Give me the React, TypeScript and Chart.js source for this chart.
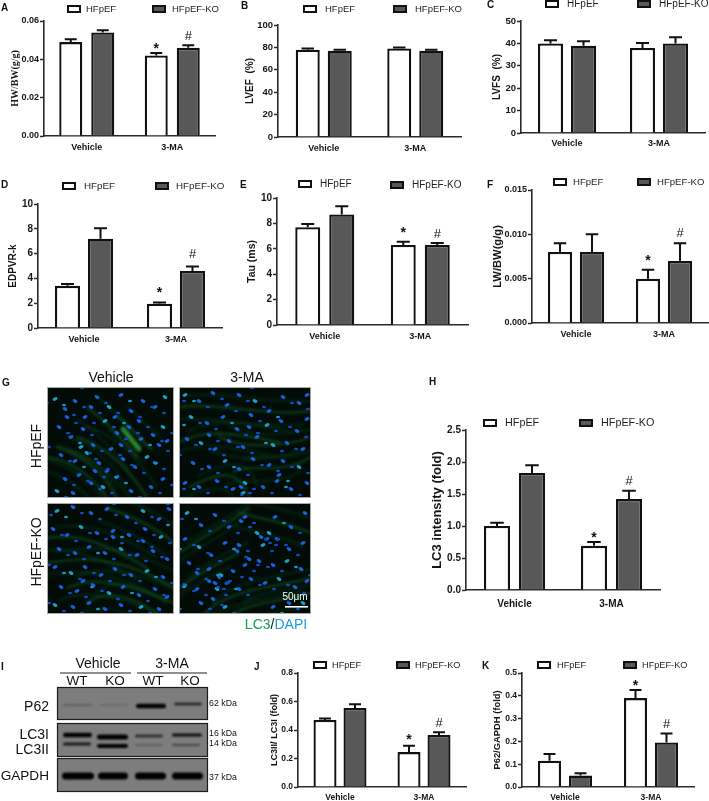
import React, { useEffect, useRef } from "react";
import { Chart, registerables } from "chart.js";
Chart.register(...registerables);

const W = 709, H = 801;
const SANS = '"Liberation Sans", Arial, sans-serif';
const SERIF = '"Liberation Serif", serif';
const INK = "#151515";
const KO_FILL = "#585858";

const categories = ["Vehicle", "3-MA"];
const seriesNames = ["HFpEF", "HFpEF-KO"];

const hwHF = [0.049, 0.042], hwKO = [0.054, 0.046], hwErrHF = [0.0015, 0.0013], hwErrKO = [0.0012, 0.0014];
const efHF = [78, 79], efKO = [77, 77], efErrHF = [1, 1], efErrKO = [1, 1];
const fsHF = [40, 38], fsKO = [39, 40], fsErrHF = [1.4, 2.2], fsErrKO = [2, 2.7];
const edHF = [3.4, 1.95], edKO = [7.2, 4.6], edErrHF = [0.15, 0.1], edErrKO = [0.85, 0.35];
const tauHF = [7.7, 6.3], tauKO = [8.7, 6.3], tauErrHF = [0.25, 0.25], tauErrKO = [0.65, 0.15];
const lwHF = [0.008, 0.005], lwKO = [0.008, 0.007], lwErrHF = [0.001, 0.001], lwErrKO = [0.002, 0.002];
const lcHF = [1.0, 0.69], lcKO = [1.83, 1.42], lcErrHF = [0.05, 0.06], lcErrKO = [0.12, 0.13];
const ratioHF = [0.47, 0.245], ratioKO = [0.555, 0.365], ratioErrHF = [0.01, 0.045], ratioErrKO = [0.025, 0.02];
const p62HF = [0.115, 0.39], p62KO = [0.05, 0.195], p62ErrHF = [0.03, 0.035], p62ErrKO = [0.01, 0.04];

type Panel = any;
const panels: Panel[] = [
  { hf: hwHF, ko: hwKO, eh: hwErrHF, ek: hwErrKO, x0: 44, x1: 215, top: 21, bot: 136, max: 0.06, step: 0.02, dec: 2, barW: 23, barStep: 32, tick: 9, xTick: 9, xPad: 6,
    title: "HW/BW(g/g)", titleX: 15, titleFont: { family: SERIF, size: 10, weight: "bold" }, leg: [68, 153, 9, 86, 172, 9, 9.5], marks: [["", "*"], ["", "#"]], gaps: [7, 9] },
  { hf: efHF, ko: efKO, eh: efErrHF, ek: efErrKO, x0: 278, x1: 461, top: 25, bot: 137, max: 100, step: 20, dec: 0, barW: 24, barStep: 32, tick: 9.5, xTick: 9, xPad: 6,
    title: "LVEF  (%)", titleX: 250, titleFont: { family: SANS, size: 10, weight: "bold" }, leg: [304, 394, 9, 325, 415, 9, 9.5], marks: [["", ""], ["", ""]], gaps: [7, 9] },
  { hf: fsHF, ko: fsKO, eh: fsErrHF, ek: fsErrKO, x0: 521, x1: 705, top: 21, bot: 133, max: 50, step: 10, dec: 0, barW: 25, barStep: 33, tick: 9.5, xTick: 9, xPad: 5,
    title: "LVFS  (%)", titleX: 497, titleFont: { family: SANS, size: 10, weight: "bold" }, leg: [546, 638, 4, 567, 659, 4, 10], marks: [["", ""], ["", ""]], gaps: [7, 9] },
  { hf: edHF, ko: edKO, eh: edErrHF, ek: edErrKO, x0: 38, x1: 222, top: 204, bot: 328, max: 10, step: 2, dec: 0, barW: 25, barStep: 33, tick: 10, xTick: 9, xPad: 6,
    title: "EDPVR-k", titleX: 13, titleFont: { family: SANS, size: 10, weight: "bold" }, leg: [63, 156, 186, 84, 176, 186, 9.8], marks: [["", "*"], ["", "#"]], gaps: [12, 12] },
  { hf: tauHF, ko: tauKO, eh: tauErrHF, ek: tauErrKO, x0: 277, x1: 468, top: 198, bot: 325, max: 10, step: 2, dec: 0, barW: 25, barStep: 34, tick: 10, xTick: 9, xPad: 6,
    title: "Tau (ms)", titleX: 252, titleFont: { family: SANS, size: 10.5, weight: "bold" }, leg: [299, 391, 184, 320, 412, 185, 10], marks: [["", "*"], ["", "#"]], gaps: [12, 9] },
  { hf: lwHF, ko: lwKO, eh: lwErrHF, ek: lwErrKO, x0: 532, x1: 708, top: 190, bot: 323, max: 0.015, step: 0.005, dec: 3, barW: 24, barStep: 32, tick: 9, xTick: 9, xPad: 6,
    title: "LW/BW(g/g)", titleX: 498, titleFont: { family: SANS, size: 11.2, weight: "bold" }, leg: [554, 638, 182, 573, 657, 182, 9.6], marks: [["", "*"], ["", "#"]], gaps: [12, 10] },
  { hf: lcHF, ko: lcKO, eh: lcErrHF, ek: lcErrKO, x0: 466, x1: 660, top: 430, bot: 590, max: 2.5, step: 0.5, dec: 1, barW: 26, barStep: 35, tick: 10, xTick: 10, xPad: 8,
    title: "LC3 intensity (fold)", titleX: 437, titleFont: { family: SANS, size: 13, weight: "bold" }, leg: [484, 580, 423, 505, 601, 423, 10.8], marks: [["", "*"], ["", "#"]], gaps: [7, 9] },
  { hf: ratioHF, ko: ratioKO, eh: ratioErrHF, ek: ratioErrKO, x0: 298, x1: 466, top: 673, bot: 787, max: 0.8, step: 0.2, dec: 1, barW: 23, barStep: 30, tick: 8.5, xTick: 8.5, xPad: 6,
    title: "LC3II/ LC3I (fold)", titleX: 274, titleFont: { family: SANS, size: 9.1, weight: "bold" }, leg: [314, 397, 665, 332, 415, 665, 9.2], marks: [["", "*"], ["", "#"]], gaps: [9, 9] },
  { hf: p62HF, ko: p62KO, eh: p62ErrHF, ek: p62ErrKO, x0: 522, x1: 694, top: 673, bot: 787, max: 0.5, step: 0.1, dec: 1, barW: 23, barStep: 31, tick: 8.5, xTick: 8.5, xPad: 6,
    title: "P62/GAPDH (fold)", titleX: 497, titleFont: { family: SANS, size: 9.4, weight: "bold" }, leg: [538, 624, 665, 557, 642, 665, 9.2], marks: [["", "*"], ["", "#"]], gaps: [7, 9] },
];

const panelLetters: [string, number, number][] = [
  ["A", 1, 2], ["B", 241, 0], ["C", 487, -1], ["D", 1, 179], ["E", 240, 179], ["F", 487, 179],
  ["G", 2, 377], ["H", 429, 376], ["I", 1, 661], ["J", 254, 661], ["K", 482, 660],
];

function makeChart(canvas: HTMLCanvasElement, p: Panel) {
  const catW = (p.x1 - p.x0) / 2;
  const decorate = {
    id: "decorate",
    afterDatasetsDraw(chart: any) {
      const ctx = chart.ctx;
      const yS = chart.scales.y;
      ctx.save();
      ctx.strokeStyle = "#111";
      const errs = [p.eh, p.ek];
      [0, 1].forEach((d) => {
        chart.getDatasetMeta(d).data.forEach((bar: any, i: number) => {
          const v = chart.data.datasets[d].data[i];
          const t = yS.getPixelForValue(v + errs[d][i]);
          const half = p.barW * 0.26;
          ctx.lineWidth = 2;
          ctx.beginPath();
          ctx.moveTo(bar.x, bar.y);
          ctx.lineTo(bar.x, t);
          ctx.moveTo(bar.x - half, t);
          ctx.lineTo(bar.x + half, t);
          ctx.stroke();
          const m = p.marks[d][i];
          if (m) {
            ctx.fillStyle = "#111";
            ctx.textAlign = "center";
            ctx.textBaseline = "middle";
            if (m === "*") {
              ctx.font = `bold 14px ${SANS}`;
              ctx.fillText(m, bar.x, t - p.gaps[0] + 3);
            } else {
              ctx.font = `13px ${SANS}`;
              ctx.fillText(m, bar.x, t - p.gaps[1]);
            }
          }
        });
      });
      const [b1, b2, by, t1, t2, ty, fs] = p.leg;
      ([[b1, t1, by, "#fff"], [b2, t2, ty, KO_FILL]] as any[]).forEach(([bx, tx, yy, fill], k) => {
        ctx.fillStyle = fill;
        ctx.fillRect(bx, yy - 3, 12, 6);
        ctx.lineWidth = 2;
        ctx.strokeRect(bx, yy - 3, 12, 6);
        ctx.fillStyle = "#1f1f1f";
        ctx.font = `${fs}px ${SANS}`;
        ctx.textAlign = "left";
        ctx.textBaseline = "middle";
        ctx.fillText(seriesNames[k], tx, yy + 0.5);
      });
      ctx.restore();
    },
  };
  return new Chart(canvas, {
    type: "bar",
    data: {
      labels: categories,
      datasets: [
        { label: seriesNames[0], data: p.hf, backgroundColor: "#ffffff", borderColor: "#111", borderWidth: 2.3 },
        { label: seriesNames[1], data: p.ko, backgroundColor: KO_FILL, borderColor: "#111", borderWidth: 2.3 },
      ],
    },
    options: {
      responsive: false,
      animation: false,
      events: [],
      layout: { padding: { left: 0, top: p.top, right: W - p.x1, bottom: H - p.bot - 24 } },
      datasets: { bar: { categoryPercentage: (2 * p.barStep) / catW, barPercentage: p.barW / p.barStep } },
      plugins: { legend: { display: false }, tooltip: { enabled: false }, title: { display: false } },
      scales: {
        x: {
          type: "category",
          grid: { display: false, drawTicks: false },
          border: { color: "#2a2a2a", width: 1.6 },
          afterFit: (s: any) => { s.height = 24; },
          ticks: { color: INK, padding: p.xPad, font: { family: SANS, size: p.xTick, weight: "bold" }, maxRotation: 0 },
        },
        y: {
          min: 0, max: p.max,
          grid: { drawOnChartArea: false, tickLength: 4, tickColor: "#2a2a2a", tickWidth: 1.5 },
          border: { color: "#2a2a2a", width: 1.6 },
          afterFit: (s: any) => { s.width = p.x0; },
          ticks: {
            stepSize: p.step, autoSkip: false, color: INK, padding: 1,
            font: { family: SANS, size: p.tick, weight: "bold" },
            callback: (v: any) => Number(v).toFixed(p.dec),
          },
          title: {
            display: true, text: p.title, color: INK, font: p.titleFont,
            padding: { top: Math.max(0, p.titleX - p.titleFont.size * 0.6), bottom: 0 },
          },
        },
      },
    } as any,
    plugins: [decorate],
  } as any);
}

function Panel({ p }: { p: Panel }) {
  const ref = useRef<HTMLCanvasElement>(null);
  useEffect(() => {
    const c = makeChart(ref.current!, p);
    return () => c.destroy();
  }, [p]);
  return <canvas ref={ref} width={W} height={H} style={{ position: "absolute", left: 0, top: 0, pointerEvents: "none" }} />;
}

/* ---------- micrographs ---------- */
const nuclei1 = "8,12 18,22 28,14 38,30 50,10 62,20 74,8 84,24 96,14 108,20 118,10 12,40 24,50 36,42 46,58 58,34 70,46 82,40 94,52 106,48 116,40 120,54 112,58 14,68 28,74 40,66 52,76 64,62 76,72 88,80 100,70 108,76 18,92 32,88 44,96 56,100 70,90 84,104 104,100 116,92 10,104 26,106 60,84 48,84 74,58 34,60 20,30 44,20 68,30 92,34".split(" ");
const nuclei2 = "6,8 20,14 34,6 48,18 60,8 76,14 90,24 104,10 120,16 128,8 12,30 28,36 44,30 58,42 72,28 88,38 102,34 118,44 128,32 8,52 22,56 36,62 50,54 64,60 78,50 94,58 108,56 124,62 14,76 30,80 46,74 60,82 74,72 90,78 104,74 120,80 6,96 20,100 38,94 54,102 66,96 84,100 98,94 112,102 128,96 64,106 62,100 30,48 100,88 70,40".split(" ");
const nuclei3 = "10,8 26,4 44,10 60,6 80,14 96,8 112,16 122,6 6,26 20,32 34,24 50,30 66,28 82,32 98,26 114,34 12,46 28,50 42,44 58,50 74,46 90,52 106,48 120,56 8,64 24,70 38,64 54,72 68,66 84,72 100,68 116,74 14,84 30,88 46,82 62,90 76,84 92,92 108,86 120,94 8,102 26,104 42,100 58,106 74,102 94,104 112,106 66,34 36,78 96,38".split(" ");
const nuclei4 = "8,10 22,22 36,12 50,24 62,18 78,30 96,14 112,24 126,10 6,36 20,44 32,52 46,40 58,48 70,56 84,42 98,36 110,46 124,40 82,34 90,30 88,36 10,60 18,70 30,66 42,72 54,68 66,62 80,58 94,62 108,58 122,66 6,82 18,86 30,78 38,86 48,80 60,86 72,76 86,80 100,76 116,84 128,78 22,100 34,96 46,104 40,74 36,80 94,104 110,100 124,100 66,14 60,42".split(" ");
const nucleiSets = [nuclei1, nuclei2, nuclei3, nuclei4];

const fibres1 = ["M30,50 C60,60 80,80 100,110", "M10,60 C40,70 60,90 70,111", "M70,30 C85,40 95,55 105,62", "M0,70 C30,75 50,95 60,111", "M40,20 C60,35 75,50 90,70"];
const fibres2 = ["M0,20 C40,15 90,30 132,24", "M0,55 C30,40 60,48 100,55", "M40,50 C60,60 100,62 132,50", "M55,85 C70,75 100,90 132,70", "M10,100 C40,85 60,80 70,111"];
const fibres3 = ["M60,5 C90,15 110,25 127,40", "M0,60 C30,55 70,50 127,85", "M20,85 C50,70 90,85 127,100", "M0,35 C30,30 60,40 100,65", "M40,100 C60,85 90,95 110,111"];
const fibres4 = ["M132,75 C95,85 50,85 25,111", "M132,90 C95,100 70,100 55,111", "M0,50 C30,30 50,20 70,5", "M60,10 C80,15 110,20 132,30", "M0,85 C20,70 40,60 60,50"];
const fibreSets = [fibres1, fibres2, fibres3, fibres4];

const micro = [
  { x: 47, y: 387, w: 127, h: 111 }, { x: 179, y: 387, w: 132, h: 111 },
  { x: 47, y: 503, w: 127, h: 111 }, { x: 179, y: 503, w: 132, h: 111 },
];

function Micrographs() {
  return (
    <svg width={W} height={H} style={{ position: "absolute", left: 0, top: 0 }}>
      <defs>
        <filter id="soft" x="-20%" y="-20%" width="140%" height="140%"><feGaussianBlur stdDeviation="1.6" /></filter>
        <filter id="dot" x="-20%" y="-20%" width="140%" height="140%"><feGaussianBlur stdDeviation="0.45" /></filter>
        <filter id="band" x="-10%" y="-100%" width="120%" height="300%"><feGaussianBlur stdDeviation="0.9" /></filter>
      </defs>
      {micro.map((m, i) => (
        <g key={i} transform={`translate(${m.x},${m.y})`}>
          <clipPath id={`c${i}`}><rect width={m.w} height={m.h} /></clipPath>
          <g clipPath={`url(#c${i})`}>
            <rect width={m.w} height={m.h} fill="#020b06" />
            <g filter="url(#soft)" fill="none" stroke="#125c28" strokeLinecap="round">
              {fibreSets[i].map((d, k) => <path key={k} d={d} strokeWidth={2.4} opacity={0.6} />)}
              {fibreSets[i].map((d, k) => <path key={"b" + k} d={d} transform="translate(9,-11)" strokeWidth={2} opacity={0.35} />)}
              {fibreSets[i].map((d, k) => <path key={"c" + k} d={d} transform="translate(-8,13)" strokeWidth={2} opacity={0.35} />)}
              {i === 0 && <path d="M76,42 L92,62" stroke="#2f9a36" strokeWidth={5} opacity={0.9} />}
            </g>
            <g filter="url(#dot)">
              {nucleiSets[i].map((s, k) => {
                const [a, b] = s.split(",").map(Number);
                return <ellipse key={k} cx={a} cy={b} rx={2.6} ry={1.6} transform={`rotate(${k % 3 === 0 ? -25 : 30} ${a} ${b})`} fill={k % 5 === 0 ? "#1aa0c8" : "#1362e0"} />;
              })}
              {nucleiSets[i].map((s, k) => {
                const [a, b] = s.split(",").map(Number);
                return <ellipse key={"s" + k} cx={(a + 9) % m.w} cy={(b + 6) % m.h} rx={2} ry={1.3} fill={k % 6 === 0 ? "#1b92c0" : "#0f4cc0"} />;
              })}
            </g>
          </g>
          <rect x={0.5} y={0.5} width={m.w - 1} height={m.h - 1} fill="none" stroke="#aaa" strokeWidth={1} />
        </g>
      ))}
      <rect x={285} y={606} width={23} height={1.6} fill="#fff" />
      <Blot />
    </svg>
  );
}

/* ---------- blots ---------- */
const blotBoxes = [
  { y: 687, h: 32 }, { y: 723, h: 33 }, { y: 758, h: 33 },
];
const bands: [number, number, number, number, number][] = [
  [63, 92, 705, 1.6, 0.3], [100, 128, 705, 1.6, 0.2], [136, 166, 706, 4.5, 1], [174, 202, 704, 2.6, 0.75],
  [63, 92, 735, 4.5, 1], [97, 128, 737, 5, 1], [135, 163, 736, 2.4, 0.7], [172, 202, 735, 3.2, 0.9],
  [63, 91, 744, 3, 0.8], [97, 128, 746, 4, 1], [135, 163, 745, 1.6, 0.35], [172, 200, 745, 2, 0.45],
  [62, 94, 776, 7, 1], [98, 128, 776, 7, 1], [135, 166, 776, 7, 1], [172, 203, 776, 7, 1],
];
function Blot() {
  return (
    <g>
      <line x1={60} x2={131} y1={673} y2={673} stroke="#222" strokeWidth={1.2} />
      <line x1={137} x2={207} y1={673} y2={673} stroke="#222" strokeWidth={1.2} />
      {blotBoxes.map((b, i) => (
        <rect key={i} x={57.5} y={b.y + 0.5} width={150} height={b.h} fill="#7d7d7d" stroke="#1c1c1c" strokeWidth={1.2} />
      ))}
      <g filter="url(#band)">
        {bands.map(([a, b, y, t, o], i) => (
          <rect key={i} x={a} y={y - t / 2} width={b - a} height={t} rx={t / 2} fill="#060606" opacity={o} />
        ))}
      </g>
    </g>
  );
}

type Lab = { t: any; x: number; y: number; s: number; a?: string; r?: boolean; c?: string };
const labels: Lab[] = [
  { t: "Vehicle", x: 111, y: 377, s: 14, a: "c" }, { t: "3-MA", x: 247, y: 377, s: 14, a: "c" },
  { t: "HFpEF", x: 36, y: 446, s: 14, a: "c", r: true }, { t: "HFpEF-KO", x: 36, y: 552, s: 14, a: "c", r: true },
  { t: "50μm", x: 295, y: 597, s: 10, a: "c", c: "#fff" },
  { t: <><span style={{ color: "#10a04e" }}>LC3</span><span>/</span><span style={{ color: "#1a9be0" }}>DAPI</span></>, x: 276, y: 624, s: 14, a: "c" },
  { t: "Vehicle", x: 98, y: 663, s: 14, a: "c" }, { t: "3-MA", x: 172, y: 663, s: 14, a: "c" },
  { t: "WT", x: 77, y: 681, s: 13.5, a: "c" }, { t: "KO", x: 115, y: 681, s: 13.5, a: "c" },
  { t: "WT", x: 153, y: 681, s: 13.5, a: "c" }, { t: "KO", x: 190, y: 681, s: 13.5, a: "c" },
  { t: "P62", x: 49, y: 706, s: 14, a: "r" }, { t: "LC3I", x: 49, y: 734, s: 14, a: "r" },
  { t: "LC3II", x: 49, y: 749, s: 14, a: "r" }, { t: "GAPDH", x: 49, y: 776, s: 13.6, a: "r" },
  { t: "62 kDa", x: 209, y: 703, s: 8.8, a: "l" }, { t: "16 kDa", x: 209, y: 733, s: 8.8, a: "l" },
  { t: "14 kDa", x: 209, y: 743, s: 8.8, a: "l" }, { t: "37 kDa", x: 209, y: 777, s: 8.8, a: "l" },
];

function Label({ l }: { l: Lab }) {
  const tx = l.a === "c" ? "-50%" : l.a === "r" ? "-100%" : "0";
  return (
    <div style={{
      position: "absolute", left: l.x, top: l.y, whiteSpace: "pre", fontFamily: SANS, fontSize: l.s, lineHeight: 1,
      color: l.c || "#111", transform: `translate(${tx},-50%)${l.r ? " rotate(-90deg)" : ""}`,
    }}>{l.t}</div>
  );
}

export default function App() {
  return (
    <div style={{ position: "absolute", left: 0, top: 0, width: W, height: H, overflow: "hidden", background: "#fff", filter: "blur(0.4px)" }}>
      <Micrographs />
      {panels.map((p, i) => <Panel key={i} p={p} />)}
      {labels.map((l, i) => <Label key={i} l={l} />)}
      {panelLetters.map(([t, x, y]) => (
        <div key={t} style={{ position: "absolute", left: x, top: y, fontFamily: SANS, fontWeight: "bold", fontSize: 10, lineHeight: "12px", color: "#111" }}>{t}</div>
      ))}
    </div>
  );
}
